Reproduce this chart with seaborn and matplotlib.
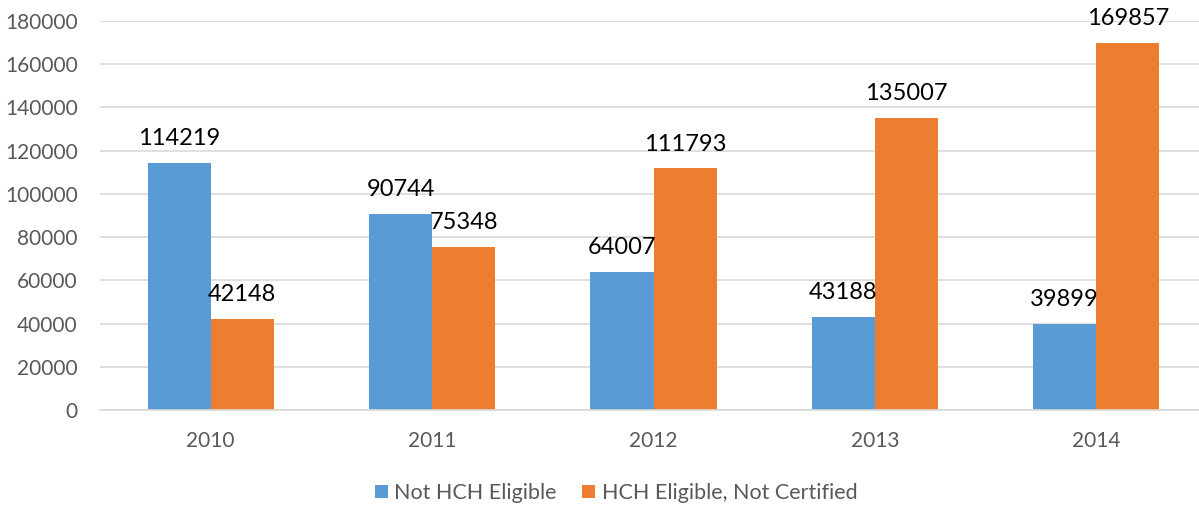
import pandas as pd
import seaborn as sns
import matplotlib.pyplot as plt

years = ['2010', '2011', '2012', '2013', '2014']
not_eligible = [114219, 90744, 64007, 43188, 39899]
eligible_not_certified = [42148, 75348, 111793, 135007, 169857]
series_names = ['Not HCH Eligible', 'HCH Eligible, Not Certified']
colors = ['#5B9BD5', '#ED7D31']

df = pd.DataFrame({
    'Year': years * 2,
    'Count': not_eligible + eligible_not_certified,
    'Series': [series_names[0]] * len(years) + [series_names[1]] * len(years),
})

sns.set_style('white')
plt.rcParams['font.family'] = ['Lato', 'DejaVu Sans']

W, H = 1199, 508
fig = plt.figure(figsize=(W / 100, H / 100), dpi=100)
ax = fig.add_axes([100 / W, 1 - 410 / H, 1107 / W, 389 / H])

sns.barplot(data=df, x='Year', y='Count', hue='Series', palette=colors,
            width=0.57, saturation=1, linewidth=0, ax=ax, legend=True)

ax.set_ylim(0, 180000)
ax.set_yticks(range(0, 180001, 20000))
ax.set_xlim(-0.5, 4.5)
ax.yaxis.grid(True, color='#D9D9D9', linewidth=1.2)
ax.set_axisbelow(True)
for s in ['top', 'right', 'left']:
    ax.spines[s].set_visible(False)
ax.spines['bottom'].set_color('#D9D9D9')
ax.spines['bottom'].set_linewidth(1.2)
ax.tick_params(axis='both', length=0, labelsize=15, labelcolor='#595959')
ax.tick_params(axis='y', pad=16)
ax.tick_params(axis='x', pad=15)
ax.set_xlabel('')
ax.set_ylabel('')

for cont in ax.containers:
    ax.bar_label(cont, fmt='%d', padding=10, fontsize=17, color='black')

handles, labels = ax.get_legend_handles_labels()
ax.get_legend().remove()
fig.legend(handles, labels, loc='center', bbox_to_anchor=(616 / W, 1 - 493 / H),
           ncol=2, frameon=False, fontsize=15.5, labelcolor='#595959',
           handlelength=0.6, handleheight=0.6, handletextpad=0.3, columnspacing=1.2)

fig.savefig('out.png', dpi=100)
